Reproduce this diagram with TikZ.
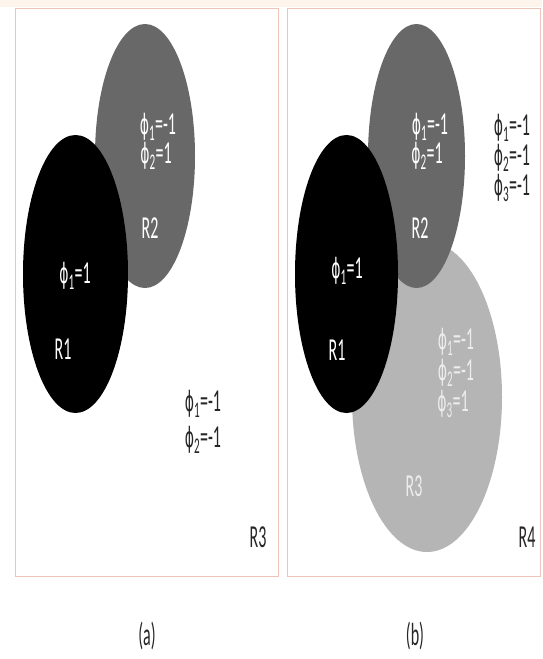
\documentclass[tikz,border=0pt]{standalone}
\usepackage{fontspec}
\setmainfont{Carlito}
\newfontfamily\phifont{DejaVu Sans}
\usetikzlibrary{positioning}

\definecolor{framepink}{RGB}{238,196,186}
\definecolor{toppeach}{RGB}{253,245,236}
\definecolor{regdark}{RGB}{104,104,104}
\definecolor{reglight}{RGB}{181,181,181}
\newcommand{\phisub}[1]{{\phifont\fontsize{28}{28}\selectfont ϕ}\textsubscript{#1}}
\tikzset{
  lbl/.style={font=\fontsize{32}{32}\selectfont,xscale=0.5,inner sep=0pt},
  inlbl/.style={lbl,white},
  outlbl/.style={lbl,black!85},
  panel/.style={draw=framepink,line width=1pt}
}

\begin{document}
\begin{tikzpicture}[x=1pt,y=-1pt]
\useasboundingbox (0,0) rectangle (542,659);
\fill[white] (0,0) rectangle (542,659);
\fill[toppeach] (0,0) rectangle (542,7);
% (a)
\draw[panel] (15,8) rectangle (278,576);
\fill[regdark] (145,156) ellipse [x radius=50,y radius=132];
\fill[black] (75.5,274) ellipse [x radius=52.5,y radius=139];
\node[inlbl] (a21) at (158,127) {\phisub{1}=-1};
\node[inlbl] (a22) at (156,156) {\phisub{2}=1};
\node[inlbl] (a2) at (150,228) {R2};
\node[inlbl] (a11) at (75,276) {\phisub{1}=1};
\node[inlbl] (a1) at (63,349) {R1};
\node[outlbl] (a31) at (203,404) {\phisub{1}=-1};
\node[outlbl] (a32) at (203,440) {\phisub{2}=-1};
\node[outlbl] (a3) at (258,537) {R3};
\node[outlbl] (capa) at (147,636) {(a)};
% (b)
\draw[panel] (287,8) rectangle (540,576);
\fill[reglight] (427,397) ellipse [x radius=75,y radius=155];
\fill[regdark] (416.5,156) ellipse [x radius=48.5,y radius=132];
\fill[black] (346.5,274) ellipse [x radius=51.5,y radius=139];
\node[inlbl] (b21) at (430,127) {\phisub{1}=-1};
\node[inlbl] (b22) at (427,156) {\phisub{2}=1};
\node[inlbl] (b2) at (420,228) {R2};
\node[outlbl] (b41) at (512,128) {\phisub{1}=-1};
\node[outlbl] (b42) at (512,158) {\phisub{2}=-1};
\node[outlbl] (b43) at (512,188) {\phisub{3}=-1};
\node[inlbl] (b11) at (347,271) {\phisub{1}=1};
\node[inlbl] (b1) at (337,350) {R1};
\node[inlbl,white!93!black] (b31) at (456,342) {\phisub{1}=-1};
\node[inlbl,white!93!black] (b32) at (456,373) {\phisub{2}=-1};
\node[inlbl,white!93!black] (b33) at (453,404) {\phisub{3}=1};
\node[inlbl,white!93!black] (b3) at (414,486) {R3};
\node[outlbl] (b4) at (527,537) {R4};
\node[outlbl] (capb) at (415,636) {(b)};
\end{tikzpicture}
\end{document}
